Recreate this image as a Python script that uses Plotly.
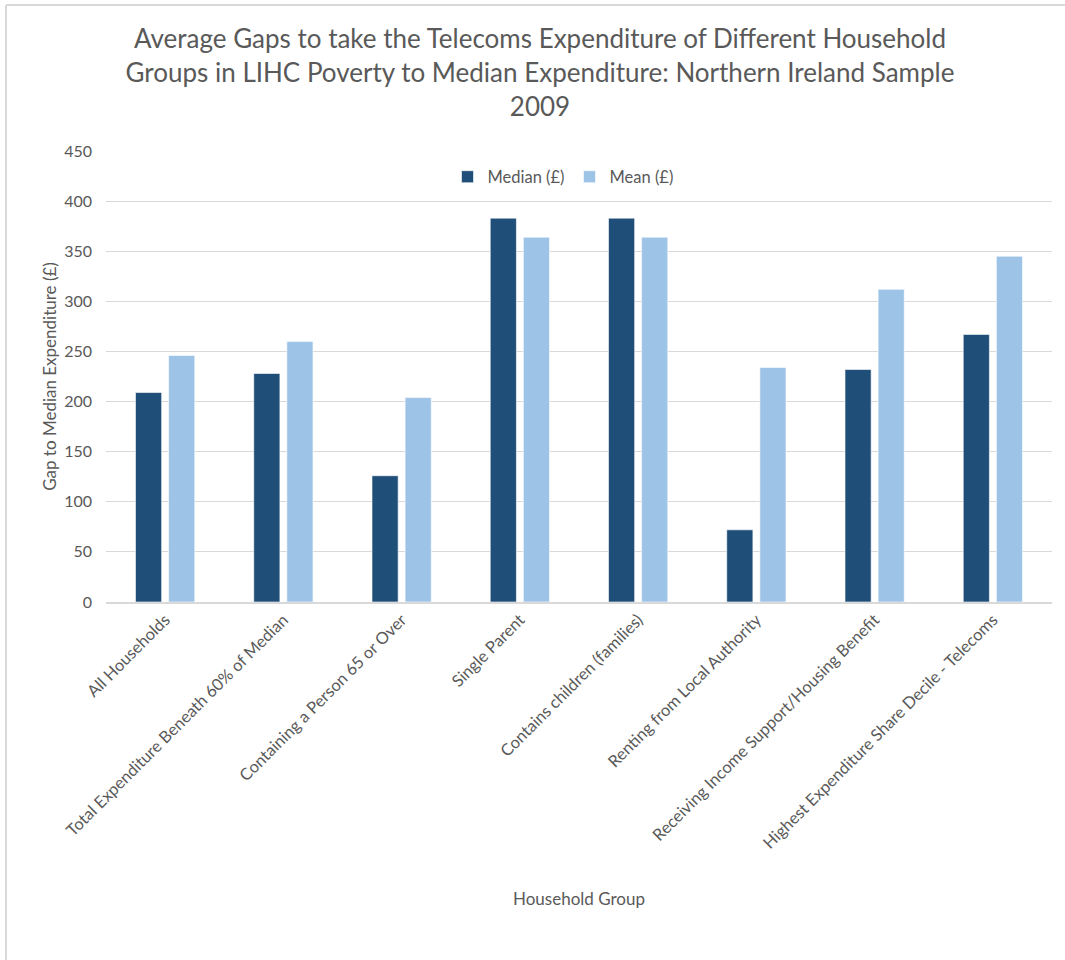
import plotly.graph_objects as go

categories = [
    "All Households",
    "Total Expenditure Beneath 60% of Median",
    "Containing a Person 65 or Over",
    "Single Parent",
    "Contains children (families)",
    "Renting from Local Authority",
    "Receiving Income Support/Housing Benefit",
    "Highest Expenditure Share Decile - Telecoms",
]
median_gap = [209, 228, 126, 383, 383, 72, 232, 267]
mean_gap = [246, 260, 204, 364, 364, 234, 312, 345]
y_ticks = [0, 50, 100, 150, 200, 250, 300, 350, 400, 450]

W, H = 1065, 960
L, R, T, B = 106, 13, 151, 358
plot_w = W - L - R
plot_h = H - T - B

def px_x(p):
    return (p - L) / plot_w

def px_y(p):
    return 1 - (p - T) / plot_h

FONT = "Lato"
GREY = "#595959"

fig = go.Figure()
fig.add_trace(go.Bar(
    name="Median (£)", x=categories, y=median_gap,
    marker=dict(color="#1F4E79", line=dict(color="#FFFFFF", width=0.6)),
))
fig.add_trace(go.Bar(
    name="Mean (£)", x=categories, y=mean_gap,
    marker=dict(color="#9DC3E6", line=dict(color="#FFFFFF", width=0.6)),
))

fig.update_layout(
    width=W, height=H,
    margin=dict(l=L, r=R, t=T, b=B, autoexpand=False),
    paper_bgcolor="white", plot_bgcolor="white",
    barmode="group", bargap=0.44, bargroupgap=0.21,
    font=dict(family=FONT, color=GREY, size=15),
    title=dict(
        text="Average Gaps to take the Telecoms Expenditure of Different Household<br>"
             "Groups in LIHC Poverty to Median Expenditure: Northern Ireland Sample<br>2009",
        x=540 / W, xanchor="center", xref="container",
        y=1 - 48 / H, yanchor="top", yref="container",
        font=dict(family=FONT, size=26, color=GREY),
    ),
    legend=dict(
        orientation="h", x=px_x(563), xanchor="center",
        y=px_y(177), yanchor="middle",
        font=dict(family=FONT, size=16.5, color=GREY),
        bgcolor="rgba(0,0,0,0)", itemwidth=30,
    ),
    showlegend=True,
)

fig.update_xaxes(
    tickangle=-45, tickfont=dict(family=FONT, size=16.5, color=GREY),
    showline=True, linecolor="#D9D9D9", linewidth=1.5,
    showgrid=False, ticks="", automargin=False,
    title=dict(text="Household Group", standoff=41,
               font=dict(family=FONT, size=17, color=GREY)),
)
fig.update_yaxes(
    range=[0, 450], tickvals=y_ticks, ticktext=[str(v) for v in y_ticks],
    tickfont=dict(family=FONT, size=16, color=GREY),
    showgrid=True, gridcolor="#D9D9D9", gridwidth=1,
    zeroline=False, showline=False, ticks="", automargin=False,
    ticklabelstandoff=13,
    title=dict(text="Gap to Median Expenditure (£)", standoff=3,
               font=dict(family=FONT, size=17, color=GREY)),
)

# Chart-area frame (left and top edges)
fig.add_shape(type="line", xref="paper", yref="paper",
              x0=px_x(6), x1=px_x(6), y0=px_y(5), y1=px_y(H + 5),
              line=dict(color="#D9D9D9", width=2))
fig.add_shape(type="line", xref="paper", yref="paper",
              x0=px_x(6), x1=px_x(W + 5), y0=px_y(5), y1=px_y(5),
              line=dict(color="#D9D9D9", width=2))

fig.write_html("out.html")
